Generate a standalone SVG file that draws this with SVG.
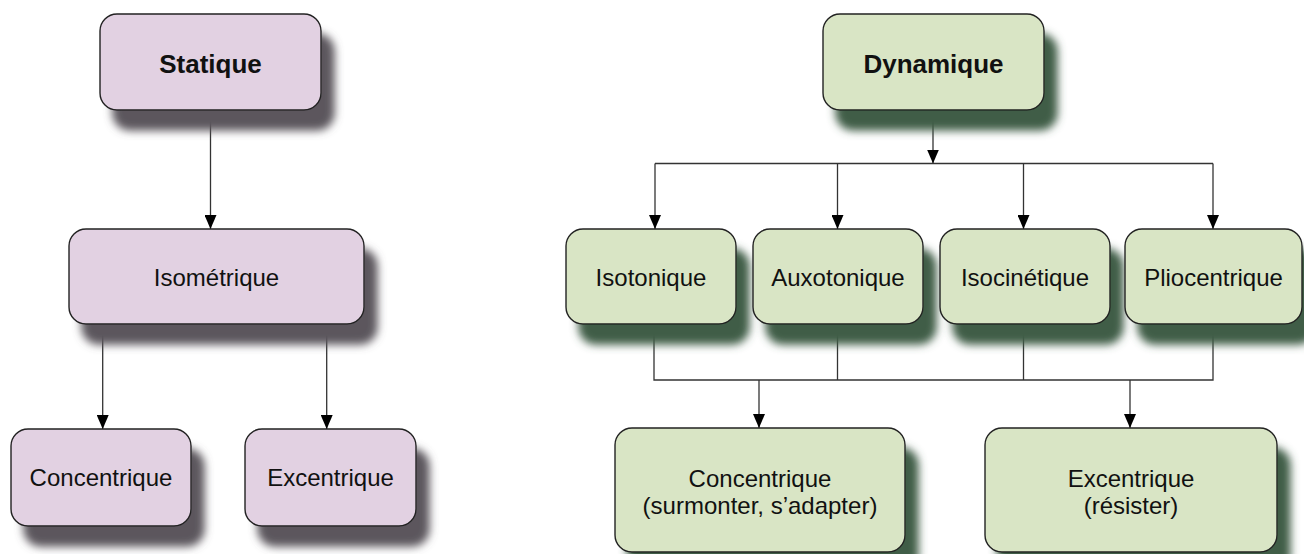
<svg xmlns="http://www.w3.org/2000/svg" width="1304" height="554" viewBox="0 0 1304 554">
  <style>
    .p { fill: #e2d1e2; stroke: #222; stroke-width: 1.4; filter: url(#shP); }
    .g { fill: #d9e5c5; stroke: #222; stroke-width: 1.4; filter: url(#shG); }
    text { font-family: "Liberation Sans", Arial, sans-serif; font-size: 24px; fill: #111; text-anchor: middle; }
    .b { font-weight: bold; font-size: 26px; }
    .c { fill: none; stroke: #333; stroke-width: 1.3; }
    .a { marker-end: url(#ah); }
  </style>
  <defs>
    <filter id="shP" x="-20%" y="-20%" width="150%" height="170%">
      <feDropShadow dx="13" dy="20" stdDeviation="4.5" flood-color="#5c575d" flood-opacity="1"/>
    </filter>
    <filter id="shG" x="-20%" y="-20%" width="150%" height="170%">
      <feDropShadow dx="13" dy="20" stdDeviation="4.5" flood-color="#3f5d46" flood-opacity="1"/>
    </filter>
    <marker id="ah" markerUnits="userSpaceOnUse" markerWidth="12" markerHeight="14" refX="6" refY="14" orient="0" viewBox="0 0 12 14">
      <path d="M0,0 L12,0 L6,14 z" fill="#000"/>
    </marker>
  </defs>

  <g id="connectors">
    <path class="c a" d="M210.5,110 V229"/>
    <path class="c a" d="M102.7,324 V429"/>
    <path class="c a" d="M326.7,324 V429"/>
    <path class="c a" d="M933,110 V163.5"/>
    <path class="c" d="M655,163.5 H1213"/>
    <path class="c a" d="M655,163.5 V229"/>
    <path class="c a" d="M837.5,163.5 V229"/>
    <path class="c a" d="M1023.5,163.5 V229"/>
    <path class="c a" d="M1213,163.5 V229"/>
    <path class="c" d="M654,324 V380 H1213 V324"/>
    <path class="c" d="M837.5,324 V380"/>
    <path class="c" d="M1023.5,324 V380"/>
    <path class="c a" d="M759,380 V428"/>
    <path class="c a" d="M1130,380 V428"/>
  </g>

  <g id="statique">
    <rect class="p" x="100" y="14" width="221" height="96" rx="17"/>
    <text class="b" x="210.5" y="73">Statique</text>
  </g>
  <g id="isometrique">
    <rect class="p" x="69" y="229" width="295" height="95" rx="17"/>
    <text x="216.5" y="285.5">Isométrique</text>
  </g>
  <g id="concentrique-s">
    <rect class="p" x="11" y="429" width="180" height="97" rx="17"/>
    <text x="101" y="486">Concentrique</text>
  </g>
  <g id="excentrique-s">
    <rect class="p" x="245" y="429" width="171" height="97" rx="17"/>
    <text x="330.5" y="486">Excentrique</text>
  </g>

  <g id="dynamique">
    <rect class="g" x="823" y="14" width="221" height="96" rx="17"/>
    <text class="b" x="933.5" y="73">Dynamique</text>
  </g>
  <g id="isotonique">
    <rect class="g" x="566" y="229" width="170" height="95" rx="17"/>
    <text x="651" y="285.5">Isotonique</text>
  </g>
  <g id="auxotonique">
    <rect class="g" x="753" y="229" width="170" height="95" rx="17"/>
    <text x="838" y="285.5">Auxotonique</text>
  </g>
  <g id="isocinetique">
    <rect class="g" x="940" y="229" width="170" height="95" rx="17"/>
    <text x="1025" y="285.5">Isocinétique</text>
  </g>
  <g id="pliocentrique">
    <rect class="g" x="1125" y="229" width="177" height="95" rx="17"/>
    <text x="1213.5" y="285.5">Pliocentrique</text>
  </g>
  <g id="concentrique-d">
    <rect class="g" x="615" y="428" width="290" height="124" rx="17"/>
    <text x="760" y="487">Concentrique</text>
    <text x="760" y="514">(surmonter, s’adapter)</text>
  </g>
  <g id="excentrique-d">
    <rect class="g" x="985" y="428" width="292" height="124" rx="17"/>
    <text x="1131" y="487">Excentrique</text>
    <text x="1131" y="514">(résister)</text>
  </g>
</svg>
